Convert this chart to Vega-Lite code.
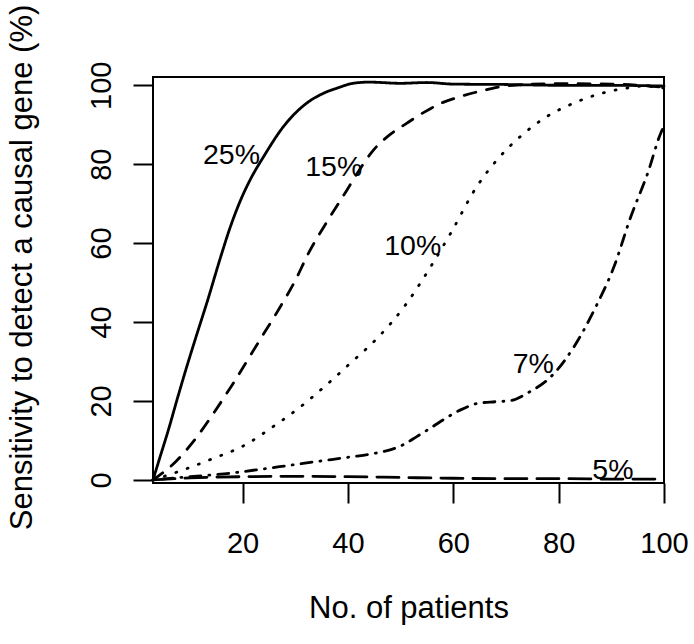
{
  "$schema": "https://vega.github.io/schema/vega-lite/v6.json",
  "width": 511,
  "height": 406,
  "autosize": {"type": "none"},
  "padding": {"left": 153, "top": 77, "right": 30, "bottom": 161},
  "background": "white",
  "config": {
    "view": {"stroke": "black", "strokeWidth": 2},
    "font": "Liberation Sans",
    "axis": {
      "domain": false,
      "grid": false,
      "tickColor": "black",
      "tickWidth": 2,
      "tickSize": 20,
      "labelFont": "Liberation Sans",
      "labelFontSize": 29,
      "labelColor": "black",
      "labelFlush": false,
      "labelOverlap": false,
      "titleFont": "Liberation Sans",
      "titleFontSize": 31,
      "titleFontWeight": "normal",
      "titleColor": "black"
    }
  },
  "datasets": {
    "curves": [
      {"g": "25%", "x": 3, "y": 0},
      {"g": "25%", "x": 4.5, "y": 6.5},
      {"g": "25%", "x": 6, "y": 13},
      {"g": "25%", "x": 7.6, "y": 20.5},
      {"g": "25%", "x": 9.3, "y": 28.2},
      {"g": "25%", "x": 11.3, "y": 36.8},
      {"g": "25%", "x": 13.3, "y": 45.2},
      {"g": "25%", "x": 15.8, "y": 56.3},
      {"g": "25%", "x": 17.6, "y": 63.8},
      {"g": "25%", "x": 19.6, "y": 70.8},
      {"g": "25%", "x": 21.7, "y": 76.7},
      {"g": "25%", "x": 23.9, "y": 81.7},
      {"g": "25%", "x": 27.8, "y": 89.6},
      {"g": "25%", "x": 32.2, "y": 95.5},
      {"g": "25%", "x": 35.4, "y": 98},
      {"g": "25%", "x": 38, "y": 99.3},
      {"g": "25%", "x": 41, "y": 100.5},
      {"g": "25%", "x": 44, "y": 100.8},
      {"g": "25%", "x": 50, "y": 100.5},
      {"g": "25%", "x": 55, "y": 100.7},
      {"g": "25%", "x": 60, "y": 100.3},
      {"g": "25%", "x": 70, "y": 100.2},
      {"g": "25%", "x": 80, "y": 100},
      {"g": "25%", "x": 90, "y": 100},
      {"g": "25%", "x": 100, "y": 99.8},
      {"g": "15%", "x": 3, "y": 0},
      {"g": "15%", "x": 7.3, "y": 4.6},
      {"g": "15%", "x": 10.6, "y": 9.6},
      {"g": "15%", "x": 14.3, "y": 16.5},
      {"g": "15%", "x": 18, "y": 24},
      {"g": "15%", "x": 22.7, "y": 34.2},
      {"g": "15%", "x": 27, "y": 43.5},
      {"g": "15%", "x": 30, "y": 50.5},
      {"g": "15%", "x": 32.5, "y": 57.4},
      {"g": "15%", "x": 36.3, "y": 66},
      {"g": "15%", "x": 39.8, "y": 73.4},
      {"g": "15%", "x": 42.3, "y": 78.8},
      {"g": "15%", "x": 44.8, "y": 83.5},
      {"g": "15%", "x": 47.8, "y": 87.3},
      {"g": "15%", "x": 51.2, "y": 90.4},
      {"g": "15%", "x": 54.5, "y": 93.2},
      {"g": "15%", "x": 57.6, "y": 95.4},
      {"g": "15%", "x": 61, "y": 97},
      {"g": "15%", "x": 66.4, "y": 98.9},
      {"g": "15%", "x": 70.3, "y": 99.9},
      {"g": "15%", "x": 80, "y": 100.4},
      {"g": "15%", "x": 90, "y": 100.3},
      {"g": "15%", "x": 100, "y": 99.5},
      {"g": "10%", "x": 3, "y": 0},
      {"g": "10%", "x": 8.5, "y": 2.4},
      {"g": "10%", "x": 14, "y": 5.2},
      {"g": "10%", "x": 20.7, "y": 9},
      {"g": "10%", "x": 25.7, "y": 13.4},
      {"g": "10%", "x": 30.7, "y": 18.2},
      {"g": "10%", "x": 35.7, "y": 23.8},
      {"g": "10%", "x": 40.5, "y": 29.6},
      {"g": "10%", "x": 45.5, "y": 35.8},
      {"g": "10%", "x": 50.8, "y": 44.1},
      {"g": "10%", "x": 55.7, "y": 54},
      {"g": "10%", "x": 59.5, "y": 62.5},
      {"g": "10%", "x": 64.5, "y": 74.4},
      {"g": "10%", "x": 68.3, "y": 81.1},
      {"g": "10%", "x": 72.8, "y": 87.1},
      {"g": "10%", "x": 77.8, "y": 92.1},
      {"g": "10%", "x": 82.9, "y": 95.5},
      {"g": "10%", "x": 88, "y": 97.9},
      {"g": "10%", "x": 93, "y": 99.3},
      {"g": "10%", "x": 96, "y": 99.8},
      {"g": "10%", "x": 100, "y": 99.3},
      {"g": "7%", "x": 3, "y": 0},
      {"g": "7%", "x": 10, "y": 0.8},
      {"g": "7%", "x": 17, "y": 1.6},
      {"g": "7%", "x": 23, "y": 2.6},
      {"g": "7%", "x": 29, "y": 3.7},
      {"g": "7%", "x": 35, "y": 4.8},
      {"g": "7%", "x": 40.5, "y": 5.8},
      {"g": "7%", "x": 45, "y": 6.7},
      {"g": "7%", "x": 48, "y": 7.6},
      {"g": "7%", "x": 50.5, "y": 8.9},
      {"g": "7%", "x": 53, "y": 10.9},
      {"g": "7%", "x": 56, "y": 13.4},
      {"g": "7%", "x": 58.8, "y": 15.8},
      {"g": "7%", "x": 61.5, "y": 17.8},
      {"g": "7%", "x": 64.7, "y": 19.4},
      {"g": "7%", "x": 68, "y": 19.8},
      {"g": "7%", "x": 71, "y": 20.1},
      {"g": "7%", "x": 74.1, "y": 22},
      {"g": "7%", "x": 78.8, "y": 26.5},
      {"g": "7%", "x": 82.9, "y": 33.7},
      {"g": "7%", "x": 87, "y": 43.7},
      {"g": "7%", "x": 90.5, "y": 54},
      {"g": "7%", "x": 93.7, "y": 66.7},
      {"g": "7%", "x": 96.9, "y": 77.7},
      {"g": "7%", "x": 99.4, "y": 87.9},
      {"g": "7%", "x": 100, "y": 89.6},
      {"g": "5%", "x": 3, "y": 0},
      {"g": "5%", "x": 10, "y": 0.5},
      {"g": "5%", "x": 20, "y": 0.8},
      {"g": "5%", "x": 30, "y": 0.9},
      {"g": "5%", "x": 40, "y": 0.8},
      {"g": "5%", "x": 50, "y": 0.6},
      {"g": "5%", "x": 60, "y": 0.4},
      {"g": "5%", "x": 70, "y": 0.3},
      {"g": "5%", "x": 80, "y": 0.3},
      {"g": "5%", "x": 90, "y": 0.2},
      {"g": "5%", "x": 100, "y": 0.2}
    ],
    "labels": [
      {"label": "25%", "x": 17.9, "y": 80},
      {"label": "15%", "x": 37.3, "y": 77},
      {"label": "10%", "x": 52.3, "y": 57},
      {"label": "7%", "x": 75.2, "y": 27},
      {"label": "5%", "x": 90.3, "y": 0.3}
    ]
  },
  "encoding": {
    "x": {
      "field": "x",
      "type": "quantitative",
      "scale": {"domain": [3, 100], "nice": false, "zero": false},
      "axis": {
        "values": [20, 40, 60, 80, 100],
        "labelPadding": 26,
        "labelBaseline": "top",
        "title": "No. of patients",
        "titleX": 255.5,
        "titleY": 134,
        "titleAlign": "center",
        "titleBaseline": "alphabetic",
        "titleAngle": 0
      }
    },
    "y": {
      "field": "y",
      "type": "quantitative",
      "scale": {"domain": [-0.8, 102.1], "nice": false, "zero": false},
      "axis": {
        "values": [0, 20, 40, 60, 80, 100],
        "labelAngle": -90,
        "labelAlign": "center",
        "labelBaseline": "alphabetic",
        "labelPadding": 23,
        "title": "Sensitivity to detect a causal gene (%)",
        "titleX": -122,
        "titleY": 190,
        "titleAngle": -90,
        "titleAlign": "center",
        "titleBaseline": "alphabetic"
      }
    }
  },
  "layer": [
    {
      "data": {"name": "curves"},
      "mark": {"type": "line", "interpolate": "monotone", "strokeWidth": 2.8, "strokeCap": "round", "color": "black"},
      "encoding": {
        "strokeDash": {
          "field": "g",
          "type": "nominal",
          "scale": {
            "domain": ["25%", "15%", "10%", "7%", "5%"],
            "range": [[1, 0], [12, 11], [1, 11], [1, 8, 11, 8], [22, 10]]
          },
          "legend": null
        }
      }
    },
    {
      "data": {"name": "labels"},
      "mark": {"type": "text", "font": "Liberation Sans", "fontSize": 28.5, "color": "black", "align": "center", "baseline": "alphabetic"},
      "encoding": {
        "text": {"field": "label"}
      }
    }
  ]
}
